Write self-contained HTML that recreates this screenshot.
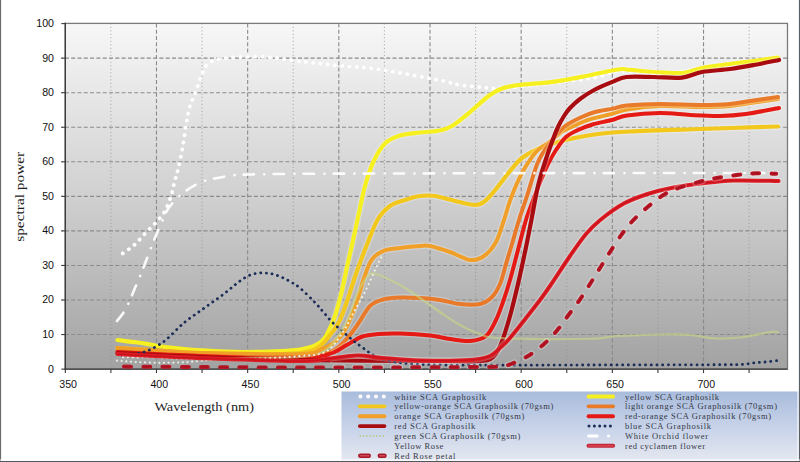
<!DOCTYPE html>
<html><head><meta charset="utf-8"><style>
html,body{margin:0;padding:0;background:#fff;width:800px;height:462px;overflow:hidden}
body{position:relative;font-family:"Liberation Sans",sans-serif}
</style></head><body>
<svg width="800" height="462" viewBox="0 0 800 462" style="position:absolute;left:0;top:0">
<defs>
<linearGradient id="bg" x1="0" y1="0" x2="0" y2="1">
<stop offset="0" stop-color="#f7f7f7"/><stop offset="0.5" stop-color="#d0d0d0"/><stop offset="1" stop-color="#a2a2a2"/>
</linearGradient>
<linearGradient id="lg" x1="0" y1="0" x2="0" y2="1">
<stop offset="0" stop-color="#a9bcdc"/><stop offset="0.55" stop-color="#c9d4ea"/><stop offset="1" stop-color="#e4e7ef"/>
</linearGradient>
<clipPath id="hc"><rect x="330" y="0" width="470" height="462"/></clipPath>
<clipPath id="pc"><rect x="65.3" y="23.4" width="722.2" height="345.7"/></clipPath>
</defs>
<rect x="65.3" y="23.4" width="722.2" height="345.7" fill="url(#bg)"/>
<line x1="61.3" y1="334.55" x2="787.5" y2="334.55" stroke="#8a8a8a" stroke-width="1.1" stroke-dasharray="4 2.3" stroke-dashoffset="-3.6"/>
<line x1="61.3" y1="300.00" x2="787.5" y2="300.00" stroke="#8a8a8a" stroke-width="1.1" stroke-dasharray="4 2.3" stroke-dashoffset="-3.6"/>
<line x1="61.3" y1="265.45" x2="787.5" y2="265.45" stroke="#8a8a8a" stroke-width="1.1" stroke-dasharray="4 2.3" stroke-dashoffset="-3.6"/>
<line x1="61.3" y1="230.90" x2="787.5" y2="230.90" stroke="#8a8a8a" stroke-width="1.1" stroke-dasharray="4 2.3" stroke-dashoffset="-3.6"/>
<line x1="61.3" y1="196.35" x2="787.5" y2="196.35" stroke="#8a8a8a" stroke-width="1.1" stroke-dasharray="4 2.3" stroke-dashoffset="-3.6"/>
<line x1="61.3" y1="161.80" x2="787.5" y2="161.80" stroke="#8a8a8a" stroke-width="1.1" stroke-dasharray="4 2.3" stroke-dashoffset="-3.6"/>
<line x1="61.3" y1="127.25" x2="787.5" y2="127.25" stroke="#8a8a8a" stroke-width="1.1" stroke-dasharray="4 2.3" stroke-dashoffset="-3.6"/>
<line x1="61.3" y1="92.70" x2="787.5" y2="92.70" stroke="#8a8a8a" stroke-width="1.1" stroke-dasharray="4 2.3" stroke-dashoffset="-3.6"/>
<line x1="61.3" y1="58.15" x2="787.5" y2="58.15" stroke="#8a8a8a" stroke-width="1.1" stroke-dasharray="4 2.3" stroke-dashoffset="-3.6"/>
<line x1="110.89" y1="23.4" x2="110.89" y2="369.1" stroke="#8e8e8e" stroke-width="0.9" stroke-dasharray="0.9 2.6"/>
<line x1="156.47" y1="23.4" x2="156.47" y2="369.1" stroke="#8a8a8a" stroke-width="1.1" stroke-dasharray="4 2.3"/>
<line x1="202.06" y1="23.4" x2="202.06" y2="369.1" stroke="#8e8e8e" stroke-width="0.9" stroke-dasharray="0.9 2.6"/>
<line x1="247.65" y1="23.4" x2="247.65" y2="369.1" stroke="#8a8a8a" stroke-width="1.1" stroke-dasharray="4 2.3"/>
<line x1="293.24" y1="23.4" x2="293.24" y2="369.1" stroke="#8e8e8e" stroke-width="0.9" stroke-dasharray="0.9 2.6"/>
<line x1="338.82" y1="23.4" x2="338.82" y2="369.1" stroke="#8a8a8a" stroke-width="1.1" stroke-dasharray="4 2.3"/>
<line x1="384.41" y1="23.4" x2="384.41" y2="369.1" stroke="#8e8e8e" stroke-width="0.9" stroke-dasharray="0.9 2.6"/>
<line x1="430.00" y1="23.4" x2="430.00" y2="369.1" stroke="#8a8a8a" stroke-width="1.1" stroke-dasharray="4 2.3"/>
<line x1="475.59" y1="23.4" x2="475.59" y2="369.1" stroke="#8e8e8e" stroke-width="0.9" stroke-dasharray="0.9 2.6"/>
<line x1="521.17" y1="23.4" x2="521.17" y2="369.1" stroke="#8a8a8a" stroke-width="1.1" stroke-dasharray="4 2.3"/>
<line x1="566.76" y1="23.4" x2="566.76" y2="369.1" stroke="#8e8e8e" stroke-width="0.9" stroke-dasharray="0.9 2.6"/>
<line x1="612.35" y1="23.4" x2="612.35" y2="369.1" stroke="#8a8a8a" stroke-width="1.1" stroke-dasharray="4 2.3"/>
<line x1="657.94" y1="23.4" x2="657.94" y2="369.1" stroke="#8e8e8e" stroke-width="0.9" stroke-dasharray="0.9 2.6"/>
<line x1="703.52" y1="23.4" x2="703.52" y2="369.1" stroke="#8a8a8a" stroke-width="1.1" stroke-dasharray="4 2.3"/>
<line x1="749.11" y1="23.4" x2="749.11" y2="369.1" stroke="#8e8e8e" stroke-width="0.9" stroke-dasharray="0.9 2.6"/>
<rect x="65.3" y="23.4" width="722.2" height="345.7" fill="none" stroke="#7a7a7a" stroke-width="1.3"/>
<line x1="65.3" y1="22.8" x2="65.3" y2="369.8" stroke="#3c3c3c" stroke-width="1.4"/>
<line x1="64.6" y1="369.1" x2="787.5" y2="369.1" stroke="#3c3c3c" stroke-width="1.4"/>
<line x1="61.3" y1="369.10" x2="65.3" y2="369.10" stroke="#3c3c3c" stroke-width="1.1"/>
<line x1="61.3" y1="334.55" x2="65.3" y2="334.55" stroke="#3c3c3c" stroke-width="1.1"/>
<line x1="61.3" y1="300.00" x2="65.3" y2="300.00" stroke="#3c3c3c" stroke-width="1.1"/>
<line x1="61.3" y1="265.45" x2="65.3" y2="265.45" stroke="#3c3c3c" stroke-width="1.1"/>
<line x1="61.3" y1="230.90" x2="65.3" y2="230.90" stroke="#3c3c3c" stroke-width="1.1"/>
<line x1="61.3" y1="196.35" x2="65.3" y2="196.35" stroke="#3c3c3c" stroke-width="1.1"/>
<line x1="61.3" y1="161.80" x2="65.3" y2="161.80" stroke="#3c3c3c" stroke-width="1.1"/>
<line x1="61.3" y1="127.25" x2="65.3" y2="127.25" stroke="#3c3c3c" stroke-width="1.1"/>
<line x1="61.3" y1="92.70" x2="65.3" y2="92.70" stroke="#3c3c3c" stroke-width="1.1"/>
<line x1="61.3" y1="58.15" x2="65.3" y2="58.15" stroke="#3c3c3c" stroke-width="1.1"/>
<line x1="61.3" y1="23.60" x2="65.3" y2="23.60" stroke="#3c3c3c" stroke-width="1.1"/>
<line x1="65.30" y1="369.1" x2="65.30" y2="373.1" stroke="#3c3c3c" stroke-width="1.1"/>
<line x1="110.89" y1="369.1" x2="110.89" y2="373.1" stroke="#3c3c3c" stroke-width="1.1"/>
<line x1="156.47" y1="369.1" x2="156.47" y2="373.1" stroke="#3c3c3c" stroke-width="1.1"/>
<line x1="202.06" y1="369.1" x2="202.06" y2="373.1" stroke="#3c3c3c" stroke-width="1.1"/>
<line x1="247.65" y1="369.1" x2="247.65" y2="373.1" stroke="#3c3c3c" stroke-width="1.1"/>
<line x1="293.24" y1="369.1" x2="293.24" y2="373.1" stroke="#3c3c3c" stroke-width="1.1"/>
<line x1="338.82" y1="369.1" x2="338.82" y2="373.1" stroke="#3c3c3c" stroke-width="1.1"/>
<line x1="384.41" y1="369.1" x2="384.41" y2="373.1" stroke="#3c3c3c" stroke-width="1.1"/>
<line x1="430.00" y1="369.1" x2="430.00" y2="373.1" stroke="#3c3c3c" stroke-width="1.1"/>
<line x1="475.59" y1="369.1" x2="475.59" y2="373.1" stroke="#3c3c3c" stroke-width="1.1"/>
<line x1="521.17" y1="369.1" x2="521.17" y2="373.1" stroke="#3c3c3c" stroke-width="1.1"/>
<line x1="566.76" y1="369.1" x2="566.76" y2="373.1" stroke="#3c3c3c" stroke-width="1.1"/>
<line x1="612.35" y1="369.1" x2="612.35" y2="373.1" stroke="#3c3c3c" stroke-width="1.1"/>
<line x1="657.94" y1="369.1" x2="657.94" y2="373.1" stroke="#3c3c3c" stroke-width="1.1"/>
<line x1="703.52" y1="369.1" x2="703.52" y2="373.1" stroke="#3c3c3c" stroke-width="1.1"/>
<line x1="749.11" y1="369.1" x2="749.11" y2="373.1" stroke="#3c3c3c" stroke-width="1.1"/>
<g clip-path="url(#pc)">
<path d="M122.70,253.40 C124.68,251.95 130.82,248.07 134.60,244.70 C138.38,241.33 141.83,236.92 145.40,233.20 C148.97,229.48 152.73,226.10 156.00,222.40 C159.27,218.70 162.50,215.40 165.00,211.00 C167.50,206.60 169.40,200.90 171.00,196.00 C172.60,191.10 173.33,186.43 174.60,181.60 C175.87,176.77 177.20,173.10 178.60,167.00 C180.00,160.90 181.67,152.50 183.00,145.00 C184.33,137.50 185.43,128.50 186.60,122.00 C187.77,115.50 188.43,111.17 190.00,106.00 C191.57,100.83 194.00,96.33 196.00,91.00 C198.00,85.67 200.00,78.50 202.00,74.00 C204.00,69.50 204.58,66.58 208.00,64.00 C211.42,61.42 213.21,59.68 222.50,58.50 C231.79,57.32 250.00,56.32 263.75,56.90 C277.50,57.48 291.88,60.48 305.00,62.00 C318.12,63.52 331.88,65.00 342.50,66.00 C353.12,67.00 360.00,67.00 368.75,68.00 C377.50,69.00 385.62,70.42 395.00,72.00 C404.38,73.58 416.75,75.97 425.00,77.50 C433.25,79.03 438.67,79.95 444.50,81.20 C450.33,82.45 453.75,83.98 460.00,85.00 C466.25,86.02 476.00,86.72 482.00,87.30 C488.00,87.88 489.67,88.63 496.00,88.50 C502.33,88.37 510.17,87.50 520.00,86.50 C529.83,85.50 542.50,84.00 555.00,82.50 C567.50,81.00 584.17,79.42 595.00,77.50 C605.83,75.58 609.17,71.58 620.00,71.00 C630.83,70.42 646.67,74.33 660.00,74.00 C673.33,73.67 686.67,70.67 700.00,69.00 C713.33,67.33 727.00,65.83 740.00,64.00 C753.00,62.17 771.67,59.00 778.00,58.00" fill="none" stroke="#ffffff" stroke-width="3.8" stroke-linejoin="round" stroke-linecap="round" stroke-dasharray="0.1 7.2"/>
<path d="M117.50,340.00 C120.83,340.42 132.08,341.75 137.50,342.50 C142.92,343.25 145.42,343.75 150.00,344.50 C154.58,345.25 156.67,346.03 165.00,347.00 C173.33,347.97 186.67,349.47 200.00,350.30 C213.33,351.13 228.33,352.13 245.00,352.00 C261.67,351.87 287.37,351.17 300.00,349.50 C312.63,347.83 316.03,345.08 320.80,342.00 C325.57,338.92 326.23,335.33 328.60,331.00 C330.97,326.67 332.83,322.50 335.00,316.00 C337.17,309.50 339.64,300.00 341.60,292.00 C343.56,284.00 345.02,275.83 346.75,268.00 C348.48,260.17 350.00,254.00 352.00,245.00 C354.00,236.00 356.58,223.83 358.75,214.00 C360.92,204.17 362.50,194.83 365.00,186.00 C367.50,177.17 370.42,168.08 373.75,161.00 C377.08,153.92 380.62,147.75 385.00,143.50 C389.38,139.25 394.17,137.33 400.00,135.50 C405.83,133.67 413.33,133.33 420.00,132.50 C426.67,131.67 434.67,131.58 440.00,130.50 C445.33,129.42 447.67,128.50 452.00,126.00 C456.33,123.50 461.67,119.00 466.00,115.50 C470.33,112.00 474.00,108.42 478.00,105.00 C482.00,101.58 486.00,97.75 490.00,95.00 C494.00,92.25 497.25,90.17 502.00,88.50 C506.75,86.83 509.75,86.15 518.50,85.00 C527.25,83.85 543.25,83.10 554.50,81.60 C565.75,80.10 575.50,78.02 586.00,76.00 C596.50,73.98 610.75,70.58 617.50,69.50 C624.25,68.42 620.42,69.08 626.50,69.50 C632.58,69.92 644.75,71.42 654.00,72.00 C663.25,72.58 674.00,73.67 682.00,73.00 C690.00,72.33 694.00,69.50 702.00,68.00 C710.00,66.50 721.33,65.17 730.00,64.00 C738.67,62.83 746.00,62.08 754.00,61.00 C762.00,59.92 774.00,58.08 778.00,57.50" fill="none" stroke="#ffffff" stroke-opacity="0.25" stroke-width="6.800000000000001" stroke-linejoin="round" stroke-linecap="round" clip-path="url(#hc)"/>
<path d="M117.50,340.00 C120.83,340.42 132.08,341.75 137.50,342.50 C142.92,343.25 145.42,343.75 150.00,344.50 C154.58,345.25 156.67,346.03 165.00,347.00 C173.33,347.97 186.67,349.47 200.00,350.30 C213.33,351.13 228.33,352.13 245.00,352.00 C261.67,351.87 287.37,351.17 300.00,349.50 C312.63,347.83 316.03,345.08 320.80,342.00 C325.57,338.92 326.23,335.33 328.60,331.00 C330.97,326.67 332.83,322.50 335.00,316.00 C337.17,309.50 339.64,300.00 341.60,292.00 C343.56,284.00 345.02,275.83 346.75,268.00 C348.48,260.17 350.00,254.00 352.00,245.00 C354.00,236.00 356.58,223.83 358.75,214.00 C360.92,204.17 362.50,194.83 365.00,186.00 C367.50,177.17 370.42,168.08 373.75,161.00 C377.08,153.92 380.62,147.75 385.00,143.50 C389.38,139.25 394.17,137.33 400.00,135.50 C405.83,133.67 413.33,133.33 420.00,132.50 C426.67,131.67 434.67,131.58 440.00,130.50 C445.33,129.42 447.67,128.50 452.00,126.00 C456.33,123.50 461.67,119.00 466.00,115.50 C470.33,112.00 474.00,108.42 478.00,105.00 C482.00,101.58 486.00,97.75 490.00,95.00 C494.00,92.25 497.25,90.17 502.00,88.50 C506.75,86.83 509.75,86.15 518.50,85.00 C527.25,83.85 543.25,83.10 554.50,81.60 C565.75,80.10 575.50,78.02 586.00,76.00 C596.50,73.98 610.75,70.58 617.50,69.50 C624.25,68.42 620.42,69.08 626.50,69.50 C632.58,69.92 644.75,71.42 654.00,72.00 C663.25,72.58 674.00,73.67 682.00,73.00 C690.00,72.33 694.00,69.50 702.00,68.00 C710.00,66.50 721.33,65.17 730.00,64.00 C738.67,62.83 746.00,62.08 754.00,61.00 C762.00,59.92 774.00,58.08 778.00,57.50" fill="none" stroke="#f6f020" stroke-width="4.2" stroke-linejoin="round" stroke-linecap="round"/>
<path d="M117.50,348.00 C125.42,348.50 151.25,350.17 165.00,351.00 C178.75,351.83 186.67,352.42 200.00,353.00 C213.33,353.58 228.33,354.50 245.00,354.50 C261.67,354.50 287.50,354.42 300.00,353.00 C312.50,351.58 315.00,349.00 320.00,346.00 C325.00,343.00 326.83,339.00 330.00,335.00 C333.17,331.00 336.21,327.50 339.00,322.00 C341.79,316.50 343.75,310.50 346.75,302.00 C349.75,293.50 353.32,281.33 357.00,271.00 C360.68,260.67 365.30,248.67 368.80,240.00 C372.30,231.33 374.47,224.67 378.00,219.00 C381.53,213.33 385.50,209.17 390.00,206.00 C394.50,202.83 400.00,201.67 405.00,200.00 C410.00,198.33 415.00,196.67 420.00,196.00 C425.00,195.33 429.17,195.17 435.00,196.00 C440.83,196.83 448.33,199.50 455.00,201.00 C461.67,202.50 470.00,205.00 475.00,205.00 C480.00,205.00 481.50,203.67 485.00,201.00 C488.50,198.33 491.83,194.00 496.00,189.00 C500.17,184.00 505.67,176.17 510.00,171.00 C514.33,165.83 517.33,161.67 522.00,158.00 C526.67,154.33 532.67,151.50 538.00,149.00 C543.33,146.50 548.67,144.67 554.00,143.00 C559.33,141.33 562.67,140.50 570.00,139.00 C577.33,137.50 588.00,135.25 598.00,134.00 C608.00,132.75 613.00,132.33 630.00,131.50 C647.00,130.67 675.33,129.83 700.00,129.00 C724.67,128.17 765.00,126.92 778.00,126.50" fill="none" stroke="#ffffff" stroke-opacity="0.25" stroke-width="6.800000000000001" stroke-linejoin="round" stroke-linecap="round" clip-path="url(#hc)"/>
<path d="M117.50,348.00 C125.42,348.50 151.25,350.17 165.00,351.00 C178.75,351.83 186.67,352.42 200.00,353.00 C213.33,353.58 228.33,354.50 245.00,354.50 C261.67,354.50 287.50,354.42 300.00,353.00 C312.50,351.58 315.00,349.00 320.00,346.00 C325.00,343.00 326.83,339.00 330.00,335.00 C333.17,331.00 336.21,327.50 339.00,322.00 C341.79,316.50 343.75,310.50 346.75,302.00 C349.75,293.50 353.32,281.33 357.00,271.00 C360.68,260.67 365.30,248.67 368.80,240.00 C372.30,231.33 374.47,224.67 378.00,219.00 C381.53,213.33 385.50,209.17 390.00,206.00 C394.50,202.83 400.00,201.67 405.00,200.00 C410.00,198.33 415.00,196.67 420.00,196.00 C425.00,195.33 429.17,195.17 435.00,196.00 C440.83,196.83 448.33,199.50 455.00,201.00 C461.67,202.50 470.00,205.00 475.00,205.00 C480.00,205.00 481.50,203.67 485.00,201.00 C488.50,198.33 491.83,194.00 496.00,189.00 C500.17,184.00 505.67,176.17 510.00,171.00 C514.33,165.83 517.33,161.67 522.00,158.00 C526.67,154.33 532.67,151.50 538.00,149.00 C543.33,146.50 548.67,144.67 554.00,143.00 C559.33,141.33 562.67,140.50 570.00,139.00 C577.33,137.50 588.00,135.25 598.00,134.00 C608.00,132.75 613.00,132.33 630.00,131.50 C647.00,130.67 675.33,129.83 700.00,129.00 C724.67,128.17 765.00,126.92 778.00,126.50" fill="none" stroke="#f2c81c" stroke-width="4.2" stroke-linejoin="round" stroke-linecap="round"/>
<path d="M117.50,348.00 C125.42,348.50 151.25,350.17 165.00,351.00 C178.75,351.83 177.50,352.50 200.00,353.00 C222.50,353.50 280.00,354.50 300.00,354.00 C320.00,353.50 314.37,351.90 320.00,350.00 C325.63,348.10 329.72,345.80 333.80,342.60 C337.88,339.40 340.77,337.32 344.50,330.80 C348.23,324.28 352.95,312.30 356.20,303.50 C359.45,294.70 361.40,285.32 364.00,278.00 C366.60,270.68 368.55,264.13 371.80,259.60 C375.05,255.07 378.80,252.73 383.50,250.80 C388.20,248.87 393.92,248.80 400.00,248.00 C406.08,247.20 415.00,246.33 420.00,246.00 C425.00,245.67 425.00,245.00 430.00,246.00 C435.00,247.00 443.33,249.67 450.00,252.00 C456.67,254.33 464.33,259.33 470.00,260.00 C475.67,260.67 479.67,259.00 484.00,256.00 C488.33,253.00 492.67,248.00 496.00,242.00 C499.33,236.00 501.50,227.33 504.00,220.00 C506.50,212.67 508.00,205.83 511.00,198.00 C514.00,190.17 517.83,180.67 522.00,173.00 C526.17,165.33 531.67,157.00 536.00,152.00 C540.33,147.00 544.33,145.83 548.00,143.00 C551.67,140.17 555.33,137.08 558.00,135.00 C560.67,132.92 559.07,133.00 564.00,130.50 C568.93,128.00 579.70,122.75 587.60,120.00 C595.50,117.25 604.83,115.75 611.40,114.00 C617.97,112.25 618.90,110.83 627.00,109.50 C635.10,108.17 647.50,106.42 660.00,106.00 C672.50,105.58 690.33,107.00 702.00,107.00 C713.67,107.00 722.00,106.67 730.00,106.00 C738.00,105.33 742.00,104.17 750.00,103.00 C758.00,101.83 773.33,99.67 778.00,99.00" fill="none" stroke="#ffffff" stroke-opacity="0.25" stroke-width="6.6" stroke-linejoin="round" stroke-linecap="round" clip-path="url(#hc)"/>
<path d="M117.50,348.00 C125.42,348.50 151.25,350.17 165.00,351.00 C178.75,351.83 177.50,352.50 200.00,353.00 C222.50,353.50 280.00,354.50 300.00,354.00 C320.00,353.50 314.37,351.90 320.00,350.00 C325.63,348.10 329.72,345.80 333.80,342.60 C337.88,339.40 340.77,337.32 344.50,330.80 C348.23,324.28 352.95,312.30 356.20,303.50 C359.45,294.70 361.40,285.32 364.00,278.00 C366.60,270.68 368.55,264.13 371.80,259.60 C375.05,255.07 378.80,252.73 383.50,250.80 C388.20,248.87 393.92,248.80 400.00,248.00 C406.08,247.20 415.00,246.33 420.00,246.00 C425.00,245.67 425.00,245.00 430.00,246.00 C435.00,247.00 443.33,249.67 450.00,252.00 C456.67,254.33 464.33,259.33 470.00,260.00 C475.67,260.67 479.67,259.00 484.00,256.00 C488.33,253.00 492.67,248.00 496.00,242.00 C499.33,236.00 501.50,227.33 504.00,220.00 C506.50,212.67 508.00,205.83 511.00,198.00 C514.00,190.17 517.83,180.67 522.00,173.00 C526.17,165.33 531.67,157.00 536.00,152.00 C540.33,147.00 544.33,145.83 548.00,143.00 C551.67,140.17 555.33,137.08 558.00,135.00 C560.67,132.92 559.07,133.00 564.00,130.50 C568.93,128.00 579.70,122.75 587.60,120.00 C595.50,117.25 604.83,115.75 611.40,114.00 C617.97,112.25 618.90,110.83 627.00,109.50 C635.10,108.17 647.50,106.42 660.00,106.00 C672.50,105.58 690.33,107.00 702.00,107.00 C713.67,107.00 722.00,106.67 730.00,106.00 C738.00,105.33 742.00,104.17 750.00,103.00 C758.00,101.83 773.33,99.67 778.00,99.00" fill="none" stroke="#f0a028" stroke-width="4.0" stroke-linejoin="round" stroke-linecap="round"/>
<path d="M117.50,351.50 C125.42,352.00 151.25,353.75 165.00,354.50 C178.75,355.25 177.50,355.58 200.00,356.00 C222.50,356.42 278.33,357.67 300.00,357.00 C321.67,356.33 322.67,354.50 330.00,352.00 C337.33,349.50 339.50,346.42 344.00,342.00 C348.50,337.58 352.67,331.50 357.00,325.50 C361.33,319.50 365.67,310.33 370.00,306.00 C374.33,301.67 378.00,300.92 383.00,299.50 C388.00,298.08 393.83,297.75 400.00,297.50 C406.17,297.25 413.33,297.58 420.00,298.00 C426.67,298.42 433.33,299.00 440.00,300.00 C446.67,301.00 453.33,303.33 460.00,304.00 C466.67,304.67 474.67,305.17 480.00,304.00 C485.33,302.83 488.67,300.33 492.00,297.00 C495.33,293.67 497.67,289.50 500.00,284.00 C502.33,278.50 504.00,270.67 506.00,264.00 C508.00,257.33 509.83,251.33 512.00,244.00 C514.17,236.67 516.50,228.00 519.00,220.00 C521.50,212.00 523.83,205.67 527.00,196.00 C530.17,186.33 534.17,170.83 538.00,162.00 C541.83,153.17 545.67,148.83 550.00,143.00 C554.33,137.17 559.00,131.20 564.00,127.00 C569.00,122.80 574.83,120.30 580.00,117.80 C585.17,115.30 589.50,113.53 595.00,112.00 C600.50,110.47 607.75,109.68 613.00,108.60 C618.25,107.52 618.67,106.27 626.50,105.50 C634.33,104.73 647.42,104.08 660.00,104.00 C672.58,103.92 690.33,105.00 702.00,105.00 C713.67,105.00 722.00,104.67 730.00,104.00 C738.00,103.33 742.00,102.17 750.00,101.00 C758.00,99.83 773.33,97.67 778.00,97.00" fill="none" stroke="#ffffff" stroke-opacity="0.25" stroke-width="6.6" stroke-linejoin="round" stroke-linecap="round" clip-path="url(#hc)"/>
<path d="M117.50,351.50 C125.42,352.00 151.25,353.75 165.00,354.50 C178.75,355.25 177.50,355.58 200.00,356.00 C222.50,356.42 278.33,357.67 300.00,357.00 C321.67,356.33 322.67,354.50 330.00,352.00 C337.33,349.50 339.50,346.42 344.00,342.00 C348.50,337.58 352.67,331.50 357.00,325.50 C361.33,319.50 365.67,310.33 370.00,306.00 C374.33,301.67 378.00,300.92 383.00,299.50 C388.00,298.08 393.83,297.75 400.00,297.50 C406.17,297.25 413.33,297.58 420.00,298.00 C426.67,298.42 433.33,299.00 440.00,300.00 C446.67,301.00 453.33,303.33 460.00,304.00 C466.67,304.67 474.67,305.17 480.00,304.00 C485.33,302.83 488.67,300.33 492.00,297.00 C495.33,293.67 497.67,289.50 500.00,284.00 C502.33,278.50 504.00,270.67 506.00,264.00 C508.00,257.33 509.83,251.33 512.00,244.00 C514.17,236.67 516.50,228.00 519.00,220.00 C521.50,212.00 523.83,205.67 527.00,196.00 C530.17,186.33 534.17,170.83 538.00,162.00 C541.83,153.17 545.67,148.83 550.00,143.00 C554.33,137.17 559.00,131.20 564.00,127.00 C569.00,122.80 574.83,120.30 580.00,117.80 C585.17,115.30 589.50,113.53 595.00,112.00 C600.50,110.47 607.75,109.68 613.00,108.60 C618.25,107.52 618.67,106.27 626.50,105.50 C634.33,104.73 647.42,104.08 660.00,104.00 C672.58,103.92 690.33,105.00 702.00,105.00 C713.67,105.00 722.00,104.67 730.00,104.00 C738.00,103.33 742.00,102.17 750.00,101.00 C758.00,99.83 773.33,97.67 778.00,97.00" fill="none" stroke="#e87a2a" stroke-width="4.0" stroke-linejoin="round" stroke-linecap="round"/>
<path d="M117.50,352.00 C125.42,352.42 151.25,353.83 165.00,354.50 C178.75,355.17 180.83,355.33 200.00,356.00 C219.17,356.67 259.00,358.67 280.00,358.50 C301.00,358.33 314.88,357.25 326.00,355.00 C337.12,352.75 340.70,348.08 346.75,345.00 C352.80,341.92 357.09,338.33 362.30,336.50 C367.51,334.67 371.72,334.50 378.00,334.00 C384.28,333.50 391.33,333.25 400.00,333.50 C408.67,333.75 421.67,334.58 430.00,335.50 C438.33,336.42 443.33,338.08 450.00,339.00 C456.67,339.92 464.00,341.50 470.00,341.00 C476.00,340.50 481.67,339.50 486.00,336.00 C490.33,332.50 493.17,325.67 496.00,320.00 C498.83,314.33 500.67,308.67 503.00,302.00 C505.33,295.33 507.50,288.67 510.00,280.00 C512.50,271.33 515.33,260.00 518.00,250.00 C520.67,240.00 523.33,228.67 526.00,220.00 C528.67,211.33 531.50,204.67 534.00,198.00 C536.50,191.33 538.67,185.67 541.00,180.00 C543.33,174.33 545.50,169.00 548.00,164.00 C550.50,159.00 553.00,154.50 556.00,150.00 C559.00,145.50 562.33,140.33 566.00,137.00 C569.67,133.67 573.58,132.08 578.00,130.00 C582.42,127.92 586.83,126.17 592.50,124.50 C598.17,122.83 606.25,121.50 612.00,120.00 C617.75,118.50 619.00,116.67 627.00,115.50 C635.00,114.33 649.50,113.08 660.00,113.00 C670.50,112.92 680.00,114.50 690.00,115.00 C700.00,115.50 710.67,116.17 720.00,116.00 C729.33,115.83 736.17,115.33 746.00,114.00 C755.83,112.67 773.50,109.00 779.00,108.00" fill="none" stroke="#ffffff" stroke-opacity="0.25" stroke-width="6.6" stroke-linejoin="round" stroke-linecap="round" clip-path="url(#hc)"/>
<path d="M117.50,352.00 C125.42,352.42 151.25,353.83 165.00,354.50 C178.75,355.17 180.83,355.33 200.00,356.00 C219.17,356.67 259.00,358.67 280.00,358.50 C301.00,358.33 314.88,357.25 326.00,355.00 C337.12,352.75 340.70,348.08 346.75,345.00 C352.80,341.92 357.09,338.33 362.30,336.50 C367.51,334.67 371.72,334.50 378.00,334.00 C384.28,333.50 391.33,333.25 400.00,333.50 C408.67,333.75 421.67,334.58 430.00,335.50 C438.33,336.42 443.33,338.08 450.00,339.00 C456.67,339.92 464.00,341.50 470.00,341.00 C476.00,340.50 481.67,339.50 486.00,336.00 C490.33,332.50 493.17,325.67 496.00,320.00 C498.83,314.33 500.67,308.67 503.00,302.00 C505.33,295.33 507.50,288.67 510.00,280.00 C512.50,271.33 515.33,260.00 518.00,250.00 C520.67,240.00 523.33,228.67 526.00,220.00 C528.67,211.33 531.50,204.67 534.00,198.00 C536.50,191.33 538.67,185.67 541.00,180.00 C543.33,174.33 545.50,169.00 548.00,164.00 C550.50,159.00 553.00,154.50 556.00,150.00 C559.00,145.50 562.33,140.33 566.00,137.00 C569.67,133.67 573.58,132.08 578.00,130.00 C582.42,127.92 586.83,126.17 592.50,124.50 C598.17,122.83 606.25,121.50 612.00,120.00 C617.75,118.50 619.00,116.67 627.00,115.50 C635.00,114.33 649.50,113.08 660.00,113.00 C670.50,112.92 680.00,114.50 690.00,115.00 C700.00,115.50 710.67,116.17 720.00,116.00 C729.33,115.83 736.17,115.33 746.00,114.00 C755.83,112.67 773.50,109.00 779.00,108.00" fill="none" stroke="#e51a14" stroke-width="4.0" stroke-linejoin="round" stroke-linecap="round"/>
<path d="M117.50,353.00 C125.42,353.42 151.25,354.83 165.00,355.50 C178.75,356.17 177.50,356.25 200.00,357.00 C222.50,357.75 260.00,359.33 300.00,360.00 C340.00,360.67 410.00,360.83 440.00,361.00 C470.00,361.17 471.17,361.67 480.00,361.00 C488.83,360.33 489.50,359.83 493.00,357.00 C496.50,354.17 498.17,350.83 501.00,344.00 C503.83,337.17 507.17,326.00 510.00,316.00 C512.83,306.00 515.50,294.67 518.00,284.00 C520.50,273.33 522.83,262.33 525.00,252.00 C527.17,241.67 528.83,233.00 531.00,222.00 C533.17,211.00 535.67,196.00 538.00,186.00 C540.33,176.00 542.67,169.33 545.00,162.00 C547.33,154.67 549.83,147.83 552.00,142.00 C554.17,136.17 556.00,131.33 558.00,127.00 C560.00,122.67 562.00,119.17 564.00,116.00 C566.00,112.83 567.33,110.83 570.00,108.00 C572.67,105.17 575.83,102.08 580.00,99.00 C584.17,95.92 589.50,92.40 595.00,89.50 C600.50,86.60 607.75,83.68 613.00,81.60 C618.25,79.52 619.67,77.77 626.50,77.00 C633.33,76.23 644.75,76.90 654.00,77.00 C663.25,77.10 674.00,78.43 682.00,77.60 C690.00,76.77 694.00,73.43 702.00,72.00 C710.00,70.57 721.33,70.17 730.00,69.00 C738.67,67.83 745.83,66.50 754.00,65.00 C762.17,63.50 774.83,60.83 779.00,60.00" fill="none" stroke="#ffffff" stroke-opacity="0.25" stroke-width="6.800000000000001" stroke-linejoin="round" stroke-linecap="round" clip-path="url(#hc)"/>
<path d="M117.50,353.00 C125.42,353.42 151.25,354.83 165.00,355.50 C178.75,356.17 177.50,356.25 200.00,357.00 C222.50,357.75 260.00,359.33 300.00,360.00 C340.00,360.67 410.00,360.83 440.00,361.00 C470.00,361.17 471.17,361.67 480.00,361.00 C488.83,360.33 489.50,359.83 493.00,357.00 C496.50,354.17 498.17,350.83 501.00,344.00 C503.83,337.17 507.17,326.00 510.00,316.00 C512.83,306.00 515.50,294.67 518.00,284.00 C520.50,273.33 522.83,262.33 525.00,252.00 C527.17,241.67 528.83,233.00 531.00,222.00 C533.17,211.00 535.67,196.00 538.00,186.00 C540.33,176.00 542.67,169.33 545.00,162.00 C547.33,154.67 549.83,147.83 552.00,142.00 C554.17,136.17 556.00,131.33 558.00,127.00 C560.00,122.67 562.00,119.17 564.00,116.00 C566.00,112.83 567.33,110.83 570.00,108.00 C572.67,105.17 575.83,102.08 580.00,99.00 C584.17,95.92 589.50,92.40 595.00,89.50 C600.50,86.60 607.75,83.68 613.00,81.60 C618.25,79.52 619.67,77.77 626.50,77.00 C633.33,76.23 644.75,76.90 654.00,77.00 C663.25,77.10 674.00,78.43 682.00,77.60 C690.00,76.77 694.00,73.43 702.00,72.00 C710.00,70.57 721.33,70.17 730.00,69.00 C738.67,67.83 745.83,66.50 754.00,65.00 C762.17,63.50 774.83,60.83 779.00,60.00" fill="none" stroke="#a80c10" stroke-width="4.2" stroke-linejoin="round" stroke-linecap="round"/>
<path d="M121.50,355.00 C122.92,354.92 126.92,354.83 130.00,354.50 C133.08,354.17 137.00,353.65 140.00,353.00 C143.00,352.35 145.04,351.83 148.00,350.60 C150.96,349.37 154.58,347.53 157.75,345.60 C160.92,343.67 163.50,342.02 167.00,339.00 C170.50,335.98 175.33,330.67 178.75,327.50 C182.17,324.33 184.58,322.29 187.50,320.00 C190.42,317.71 193.33,315.83 196.25,313.75 C199.17,311.67 202.08,309.58 205.00,307.50 C207.92,305.42 210.83,303.33 213.75,301.25 C216.67,299.17 219.58,297.21 222.50,295.00 C225.42,292.79 228.33,290.33 231.25,288.00 C234.17,285.67 236.88,283.17 240.00,281.00 C243.12,278.83 246.67,276.33 250.00,275.00 C253.33,273.67 256.67,273.25 260.00,273.00 C263.33,272.75 266.67,272.92 270.00,273.50 C273.33,274.08 276.67,275.17 280.00,276.50 C283.33,277.83 286.67,279.58 290.00,281.50 C293.33,283.42 295.83,284.50 300.00,288.00 C304.17,291.50 311.04,298.42 315.00,302.50 C318.96,306.58 320.83,309.17 323.75,312.50 C326.67,315.83 329.38,319.38 332.50,322.50 C335.62,325.62 339.17,328.33 342.50,331.25 C345.83,334.17 349.17,337.29 352.50,340.00 C355.83,342.71 358.75,344.83 362.50,347.50 C366.25,350.17 369.58,353.58 375.00,356.00 C380.42,358.42 385.83,360.53 395.00,362.00 C404.17,363.47 412.50,364.27 430.00,364.80 C447.50,365.33 473.33,365.17 500.00,365.20 C526.67,365.23 556.67,365.07 590.00,365.00 C623.33,364.93 675.00,364.88 700.00,364.80 C725.00,364.72 731.25,364.80 740.00,364.50 C748.75,364.20 748.33,363.42 752.50,363.00 C756.67,362.58 760.75,362.42 765.00,362.00 C769.25,361.58 775.83,360.75 778.00,360.50" fill="none" stroke="#1a2c58" stroke-width="2.8" stroke-linejoin="round" stroke-linecap="round" stroke-dasharray="0.1 5.6"/>
<path d="M207.00,360.00 C212.50,359.67 224.50,358.50 240.00,358.00 C255.50,357.50 285.67,358.33 300.00,357.00 C314.33,355.67 318.50,355.33 326.00,350.00 C333.50,344.67 339.67,334.67 345.00,325.00 C350.33,315.33 354.17,300.17 358.00,292.00 C361.83,283.83 365.00,279.00 368.00,276.00 C371.00,273.00 370.67,272.50 376.00,274.00 C381.33,275.50 392.67,281.00 400.00,285.00 C407.33,289.00 413.33,293.50 420.00,298.00 C426.67,302.50 433.33,307.50 440.00,312.00 C446.67,316.50 453.33,321.33 460.00,325.00 C466.67,328.67 473.33,331.83 480.00,334.00 C486.67,336.17 481.67,337.21 500.00,338.00 C518.33,338.79 570.83,339.04 590.00,338.75 C609.17,338.46 602.50,336.96 615.00,336.25 C627.50,335.54 652.50,334.71 665.00,334.50 C677.50,334.29 681.67,334.33 690.00,335.00 C698.33,335.67 706.67,338.08 715.00,338.50 C723.33,338.92 730.83,338.58 740.00,337.50 C749.17,336.42 763.67,332.92 770.00,332.00 C776.33,331.08 776.67,332.00 778.00,332.00" fill="none" stroke="#c8d884" stroke-width="2.2" stroke-linejoin="round" stroke-linecap="round" stroke-opacity="0.6"/>
<path d="M117.00,360.60 C120.00,360.83 127.83,361.63 135.00,362.00 C142.17,362.37 151.67,362.77 160.00,362.80 C168.33,362.83 177.17,362.63 185.00,362.20 C192.83,361.77 200.83,360.82 207.00,360.20 C213.17,359.58 219.50,358.78 222.00,358.50" fill="none" stroke="#e6ece0" stroke-width="2.2" stroke-linejoin="round" stroke-linecap="round" stroke-dasharray="0.1 4.6"/>
<path d="M117.00,321.00 C117.95,319.80 120.92,316.43 122.70,313.80 C124.48,311.17 125.90,308.92 127.70,305.20 C129.50,301.48 131.52,296.15 133.50,291.50 C135.48,286.85 137.68,281.97 139.60,277.30 C141.52,272.63 143.20,268.13 145.00,263.50 C146.80,258.87 148.57,254.17 150.40,249.50 C152.23,244.83 154.07,240.15 156.00,235.50 C157.93,230.85 160.00,226.02 162.00,221.60 C164.00,217.18 165.17,213.20 168.00,209.00 C170.83,204.80 175.17,199.98 179.00,196.40 C182.83,192.82 186.83,190.07 191.00,187.50 C195.17,184.93 199.33,182.63 204.00,181.00 C208.67,179.37 214.00,178.67 219.00,177.70 C224.00,176.73 228.83,175.73 234.00,175.20 C239.17,174.67 239.00,174.73 250.00,174.50 C261.00,174.27 275.00,173.97 300.00,173.80 C325.00,173.63 366.67,173.60 400.00,173.50 C433.33,173.40 466.67,173.27 500.00,173.20 C533.33,173.13 566.67,173.13 600.00,173.10 C633.33,173.07 672.17,173.02 700.00,173.00 C727.83,172.98 755.83,173.00 767.00,173.00" fill="none" stroke="#ffffff" stroke-width="2.6" stroke-linejoin="round" stroke-linecap="round" stroke-dasharray="10.5 10.3 0.1 9.1" stroke-opacity="0.92"/>
<path d="M123.00,357.20 C125.33,357.23 131.67,357.40 137.00,357.40 C142.33,357.40 148.67,357.02 155.00,357.20 C161.33,357.38 165.83,358.20 175.00,358.50 C184.17,358.80 195.83,359.00 210.00,359.00 C224.17,359.00 245.00,359.00 260.00,358.50 C275.00,358.00 289.00,357.13 300.00,356.00 C311.00,354.87 318.92,355.58 326.00,351.70 C333.08,347.82 337.80,339.43 342.50,332.70 C347.20,325.97 350.28,318.45 354.20,311.30 C358.12,304.15 362.42,296.95 366.00,289.80 C369.58,282.65 372.95,274.25 375.70,268.40 C378.45,262.55 381.37,256.98 382.50,254.70" fill="none" stroke="#f4f4e4" stroke-width="2.0" stroke-linejoin="round" stroke-linecap="round" stroke-dasharray="0.1 4.8"/>
<path d="M117.50,354.00 C125.42,354.42 151.25,355.80 165.00,356.50 C178.75,357.20 177.50,357.45 200.00,358.20 C222.50,358.95 279.00,360.87 300.00,361.00 C321.00,361.13 316.42,359.92 326.00,359.00 C335.58,358.08 348.08,355.67 357.50,355.50 C366.92,355.33 372.08,357.17 382.50,358.00 C392.92,358.83 405.42,360.17 420.00,360.50 C434.58,360.83 458.33,360.75 470.00,360.00 C481.67,359.25 485.00,358.00 490.00,356.00 C495.00,354.00 496.67,351.00 500.00,348.00 C503.33,345.00 505.67,343.00 510.00,338.00 C514.33,333.00 521.00,324.33 526.00,318.00 C531.00,311.67 536.00,305.33 540.00,300.00 C544.00,294.67 545.00,293.33 550.00,286.00 C555.00,278.67 564.00,264.67 570.00,256.00 C576.00,247.33 581.00,239.97 586.00,234.00 C591.00,228.03 593.70,225.27 600.00,220.20 C606.30,215.13 615.87,207.97 623.80,203.60 C631.73,199.23 639.67,196.60 647.60,194.00 C655.53,191.40 662.27,189.78 671.40,188.00 C680.53,186.22 692.08,184.55 702.40,183.30 C712.72,182.05 720.60,180.88 733.30,180.50 C746.00,180.12 771.05,180.92 778.60,181.00" fill="none" stroke="#ffffff" stroke-opacity="0.25" stroke-width="6.6" stroke-linejoin="round" stroke-linecap="round" clip-path="url(#hc)"/>
<path d="M117.50,354.00 C125.42,354.42 151.25,355.80 165.00,356.50 C178.75,357.20 177.50,357.45 200.00,358.20 C222.50,358.95 279.00,360.87 300.00,361.00 C321.00,361.13 316.42,359.92 326.00,359.00 C335.58,358.08 348.08,355.67 357.50,355.50 C366.92,355.33 372.08,357.17 382.50,358.00 C392.92,358.83 405.42,360.17 420.00,360.50 C434.58,360.83 458.33,360.75 470.00,360.00 C481.67,359.25 485.00,358.00 490.00,356.00 C495.00,354.00 496.67,351.00 500.00,348.00 C503.33,345.00 505.67,343.00 510.00,338.00 C514.33,333.00 521.00,324.33 526.00,318.00 C531.00,311.67 536.00,305.33 540.00,300.00 C544.00,294.67 545.00,293.33 550.00,286.00 C555.00,278.67 564.00,264.67 570.00,256.00 C576.00,247.33 581.00,239.97 586.00,234.00 C591.00,228.03 593.70,225.27 600.00,220.20 C606.30,215.13 615.87,207.97 623.80,203.60 C631.73,199.23 639.67,196.60 647.60,194.00 C655.53,191.40 662.27,189.78 671.40,188.00 C680.53,186.22 692.08,184.55 702.40,183.30 C712.72,182.05 720.60,180.88 733.30,180.50 C746.00,180.12 771.05,180.92 778.60,181.00" fill="none" stroke="#e01e26" stroke-width="4.0" stroke-linejoin="round" stroke-linecap="round"/>
<path d="M117.50,354.00 C125.42,354.42 151.25,355.80 165.00,356.50 C178.75,357.20 177.50,357.45 200.00,358.20 C222.50,358.95 279.00,360.87 300.00,361.00 C321.00,361.13 316.42,359.92 326.00,359.00 C335.58,358.08 348.08,355.67 357.50,355.50 C366.92,355.33 372.08,357.17 382.50,358.00 C392.92,358.83 405.42,360.17 420.00,360.50 C434.58,360.83 458.33,360.75 470.00,360.00 C481.67,359.25 485.00,358.00 490.00,356.00 C495.00,354.00 496.67,351.00 500.00,348.00 C503.33,345.00 505.67,343.00 510.00,338.00 C514.33,333.00 521.00,324.33 526.00,318.00 C531.00,311.67 536.00,305.33 540.00,300.00 C544.00,294.67 545.00,293.33 550.00,286.00 C555.00,278.67 564.00,264.67 570.00,256.00 C576.00,247.33 581.00,239.97 586.00,234.00 C591.00,228.03 593.70,225.27 600.00,220.20 C606.30,215.13 615.87,207.97 623.80,203.60 C631.73,199.23 639.67,196.60 647.60,194.00 C655.53,191.40 662.27,189.78 671.40,188.00 C680.53,186.22 692.08,184.55 702.40,183.30 C712.72,182.05 720.60,180.88 733.30,180.50 C746.00,180.12 771.05,180.92 778.60,181.00" fill="none" stroke="#c4121c" stroke-width="1.4" stroke-linejoin="round" stroke-linecap="round" stroke-opacity="0.8"/>
<path d="M120.00,366.60 C133.33,366.67 170.00,366.83 200.00,367.00 C230.00,367.17 266.67,367.53 300.00,367.60 C333.33,367.67 370.00,367.50 400.00,367.40 C430.00,367.30 463.33,367.15 480.00,367.00 C496.67,366.85 494.83,367.00 500.00,366.50 C505.17,366.00 506.33,365.75 511.00,364.00 C515.67,362.25 522.50,359.33 528.00,356.00 C533.50,352.67 539.17,348.25 544.00,344.00 C548.83,339.75 552.92,335.33 557.00,330.50 C561.08,325.67 564.67,320.17 568.50,315.00 C572.33,309.83 576.42,304.67 580.00,299.50 C583.58,294.33 586.67,289.25 590.00,284.00 C593.33,278.75 596.67,273.33 600.00,268.00 C603.33,262.67 606.33,257.67 610.00,252.00 C613.67,246.33 618.12,239.30 622.00,234.00 C625.88,228.70 629.03,224.70 633.30,220.20 C637.57,215.70 642.65,211.17 647.60,207.00 C652.55,202.83 657.83,198.37 663.00,195.20 C668.17,192.03 672.63,190.20 678.60,188.00 C684.57,185.80 692.45,183.67 698.80,182.00 C705.15,180.33 710.33,179.17 716.70,178.00 C723.07,176.83 730.45,175.78 737.00,175.00 C743.55,174.22 749.47,173.50 756.00,173.30 C762.53,173.10 772.83,173.72 776.20,173.80" fill="none" stroke="#ffffff" stroke-opacity="0.25" stroke-width="6.6" stroke-linejoin="round" stroke-linecap="round" clip-path="url(#hc)" stroke-dasharray="7 12.2" stroke-dashoffset="-4.2"/>
<path d="M120.00,366.60 C133.33,366.67 170.00,366.83 200.00,367.00 C230.00,367.17 266.67,367.53 300.00,367.60 C333.33,367.67 370.00,367.50 400.00,367.40 C430.00,367.30 463.33,367.15 480.00,367.00 C496.67,366.85 494.83,367.00 500.00,366.50 C505.17,366.00 506.33,365.75 511.00,364.00 C515.67,362.25 522.50,359.33 528.00,356.00 C533.50,352.67 539.17,348.25 544.00,344.00 C548.83,339.75 552.92,335.33 557.00,330.50 C561.08,325.67 564.67,320.17 568.50,315.00 C572.33,309.83 576.42,304.67 580.00,299.50 C583.58,294.33 586.67,289.25 590.00,284.00 C593.33,278.75 596.67,273.33 600.00,268.00 C603.33,262.67 606.33,257.67 610.00,252.00 C613.67,246.33 618.12,239.30 622.00,234.00 C625.88,228.70 629.03,224.70 633.30,220.20 C637.57,215.70 642.65,211.17 647.60,207.00 C652.55,202.83 657.83,198.37 663.00,195.20 C668.17,192.03 672.63,190.20 678.60,188.00 C684.57,185.80 692.45,183.67 698.80,182.00 C705.15,180.33 710.33,179.17 716.70,178.00 C723.07,176.83 730.45,175.78 737.00,175.00 C743.55,174.22 749.47,173.50 756.00,173.30 C762.53,173.10 772.83,173.72 776.20,173.80" fill="none" stroke="#b81826" stroke-width="4.0" stroke-linejoin="round" stroke-linecap="round" stroke-dasharray="7 12.2" stroke-dashoffset="-4.2"/>
<path d="M120.00,366.60 C133.33,366.67 170.00,366.83 200.00,367.00 C230.00,367.17 266.67,367.53 300.00,367.60 C333.33,367.67 370.00,367.50 400.00,367.40 C430.00,367.30 463.33,367.15 480.00,367.00 C496.67,366.85 494.83,367.00 500.00,366.50 C505.17,366.00 506.33,365.75 511.00,364.00 C515.67,362.25 522.50,359.33 528.00,356.00 C533.50,352.67 539.17,348.25 544.00,344.00 C548.83,339.75 552.92,335.33 557.00,330.50 C561.08,325.67 564.67,320.17 568.50,315.00 C572.33,309.83 576.42,304.67 580.00,299.50 C583.58,294.33 586.67,289.25 590.00,284.00 C593.33,278.75 596.67,273.33 600.00,268.00 C603.33,262.67 606.33,257.67 610.00,252.00 C613.67,246.33 618.12,239.30 622.00,234.00 C625.88,228.70 629.03,224.70 633.30,220.20 C637.57,215.70 642.65,211.17 647.60,207.00 C652.55,202.83 657.83,198.37 663.00,195.20 C668.17,192.03 672.63,190.20 678.60,188.00 C684.57,185.80 692.45,183.67 698.80,182.00 C705.15,180.33 710.33,179.17 716.70,178.00 C723.07,176.83 730.45,175.78 737.00,175.00 C743.55,174.22 749.47,173.50 756.00,173.30 C762.53,173.10 772.83,173.72 776.20,173.80" fill="none" stroke="#a81020" stroke-width="1.4" stroke-linejoin="round" stroke-linecap="round" stroke-dasharray="7 12.2" stroke-dashoffset="-4.2"/>
</g>
<text x="54" y="372.50" text-anchor="end" font-family="Liberation Sans" font-size="10.6" fill="#111">0</text>
<text x="54" y="337.95" text-anchor="end" font-family="Liberation Sans" font-size="10.6" fill="#111">10</text>
<text x="54" y="303.40" text-anchor="end" font-family="Liberation Sans" font-size="10.6" fill="#111">20</text>
<text x="54" y="268.85" text-anchor="end" font-family="Liberation Sans" font-size="10.6" fill="#111">30</text>
<text x="54" y="234.30" text-anchor="end" font-family="Liberation Sans" font-size="10.6" fill="#111">40</text>
<text x="54" y="199.75" text-anchor="end" font-family="Liberation Sans" font-size="10.6" fill="#111">50</text>
<text x="54" y="165.20" text-anchor="end" font-family="Liberation Sans" font-size="10.6" fill="#111">60</text>
<text x="54" y="130.65" text-anchor="end" font-family="Liberation Sans" font-size="10.6" fill="#111">70</text>
<text x="54" y="96.10" text-anchor="end" font-family="Liberation Sans" font-size="10.6" fill="#111">80</text>
<text x="54" y="61.55" text-anchor="end" font-family="Liberation Sans" font-size="10.6" fill="#111">90</text>
<text x="54" y="27.00" text-anchor="end" font-family="Liberation Sans" font-size="10.6" fill="#111">100</text>
<text x="68.10" y="388" text-anchor="middle" font-family="Liberation Sans" font-size="10.6" fill="#111">350</text>
<text x="159.28" y="388" text-anchor="middle" font-family="Liberation Sans" font-size="10.6" fill="#111">400</text>
<text x="250.45" y="388" text-anchor="middle" font-family="Liberation Sans" font-size="10.6" fill="#111">450</text>
<text x="341.62" y="388" text-anchor="middle" font-family="Liberation Sans" font-size="10.6" fill="#111">500</text>
<text x="432.80" y="388" text-anchor="middle" font-family="Liberation Sans" font-size="10.6" fill="#111">550</text>
<text x="523.97" y="388" text-anchor="middle" font-family="Liberation Sans" font-size="10.6" fill="#111">600</text>
<text x="615.15" y="388" text-anchor="middle" font-family="Liberation Sans" font-size="10.6" fill="#111">650</text>
<text x="706.32" y="388" text-anchor="middle" font-family="Liberation Sans" font-size="10.6" fill="#111">700</text>
<text x="154.4" y="410.8" font-family="Liberation Serif" font-size="13.4" fill="#1e1e1e" textLength="99.6" lengthAdjust="spacingAndGlyphs">Wavelength (nm)</text>
<text transform="translate(24.2,241.8) rotate(-90)" font-family="Liberation Serif" font-size="13.2" fill="#1e1e1e" textLength="90" lengthAdjust="spacingAndGlyphs">spectral power</text>
<rect x="341.5" y="391.5" width="457" height="69" fill="url(#lg)"/>
<circle cx="360.4" cy="396.50" r="2" fill="#ffffff"/>
<circle cx="368.2" cy="396.50" r="2" fill="#ffffff"/>
<circle cx="376.0" cy="396.50" r="2" fill="#ffffff"/>
<circle cx="383.8" cy="396.50" r="2" fill="#ffffff"/>
<text x="394.3" y="399.50" font-family="Liberation Serif" font-size="8.5" fill="#343846" textLength="92" lengthAdjust="spacing">white SCA Graphosilk</text>
<path d="M359.9,406.37 L384.4,406.37" stroke="#f2c81c" stroke-width="3.9" stroke-linecap="round"/>
<text x="394.3" y="409.37" font-family="Liberation Serif" font-size="8.5" fill="#343846" textLength="159" lengthAdjust="spacing">yellow-orange SCA Graphosilk (70gsm)</text>
<path d="M359.9,416.24 L384.4,416.24" stroke="#f0a028" stroke-width="3.9" stroke-linecap="round"/>
<text x="394.3" y="419.24" font-family="Liberation Serif" font-size="8.5" fill="#343846" textLength="130" lengthAdjust="spacing">orange SCA Graphosilk (70gsm)</text>
<path d="M359.9,426.11 L384.4,426.11" stroke="#a80c10" stroke-width="3.9" stroke-linecap="round"/>
<text x="394.3" y="429.11" font-family="Liberation Serif" font-size="8.5" fill="#343846" textLength="81" lengthAdjust="spacing">red SCA Graphosilk</text>
<circle cx="360.3" cy="435.98" r="0.8" fill="#a8c860"/>
<circle cx="363.6" cy="435.98" r="0.8" fill="#a8c860"/>
<circle cx="366.9" cy="435.98" r="0.8" fill="#a8c860"/>
<circle cx="370.2" cy="435.98" r="0.8" fill="#a8c860"/>
<circle cx="373.5" cy="435.98" r="0.8" fill="#a8c860"/>
<circle cx="376.8" cy="435.98" r="0.8" fill="#a8c860"/>
<circle cx="380.1" cy="435.98" r="0.8" fill="#a8c860"/>
<circle cx="383.4" cy="435.98" r="0.8" fill="#a8c860"/>
<text x="394.3" y="438.98" font-family="Liberation Serif" font-size="8.5" fill="#343846" textLength="126" lengthAdjust="spacing">green SCA Graphosilk (70gsm)</text>
<path d="M358.3,445.85 L386.0,445.85" stroke="#d6deee" stroke-width="2" stroke-linecap="butt"/>
<text x="394.3" y="448.85" font-family="Liberation Serif" font-size="8.5" fill="#343846" textLength="49" lengthAdjust="spacing">Yellow Rose</text>
<path d="M360.3,455.72 L368.8,455.72" stroke="#a81828" stroke-width="4.4" stroke-linecap="round"/>
<path d="M360.3,455.72 L368.8,455.72" stroke="#d04858" stroke-width="1.5" stroke-linecap="round"/>
<path d="M379.8,455.72 L384.5,455.72" stroke="#a81828" stroke-width="4.4" stroke-linecap="round"/>
<path d="M379.8,455.72 L384.5,455.72" stroke="#d04858" stroke-width="1.5" stroke-linecap="round"/>
<text x="394.3" y="458.72" font-family="Liberation Serif" font-size="8.5" fill="#343846" textLength="61" lengthAdjust="spacing">Red Rose petal</text>
<path d="M588.6,396.50 L613.0,396.50" stroke="#f6f020" stroke-width="3.9" stroke-linecap="round"/>
<text x="625.0" y="399.50" font-family="Liberation Serif" font-size="8.5" fill="#343846" textLength="94" lengthAdjust="spacing">yellow SCA Graphosilk</text>
<path d="M588.6,406.37 L613.0,406.37" stroke="#e87a2a" stroke-width="3.9" stroke-linecap="round"/>
<text x="625.0" y="409.37" font-family="Liberation Serif" font-size="8.5" fill="#343846" textLength="152" lengthAdjust="spacing">light orange SCA Graphosilk (70gsm)</text>
<path d="M588.6,416.24 L613.0,416.24" stroke="#e51a14" stroke-width="3.9" stroke-linecap="round"/>
<text x="625.0" y="419.24" font-family="Liberation Serif" font-size="8.5" fill="#343846" textLength="146" lengthAdjust="spacing">red-orange SCA Graphosilk (70gsm)</text>
<circle cx="589.0" cy="426.11" r="1.5" fill="#1a2c58"/>
<circle cx="594.4" cy="426.11" r="1.5" fill="#1a2c58"/>
<circle cx="599.7" cy="426.11" r="1.5" fill="#1a2c58"/>
<circle cx="605.0" cy="426.11" r="1.5" fill="#1a2c58"/>
<circle cx="610.4" cy="426.11" r="1.5" fill="#1a2c58"/>
<text x="625.0" y="429.11" font-family="Liberation Serif" font-size="8.5" fill="#343846" textLength="86" lengthAdjust="spacing">blue SCA Graphosilk</text>
<path d="M588.5,435.98 L597.2,435.98" stroke="#ffffff" stroke-width="3" stroke-linecap="round"/>
<circle cx="608.5" cy="435.98" r="1.5" fill="#ffffff"/>
<text x="625.0" y="438.98" font-family="Liberation Serif" font-size="8.5" fill="#343846" textLength="83" lengthAdjust="spacing">White Orchid flower</text>
<path d="M588.5,445.85 L613.1,445.85" stroke="#c02838" stroke-width="4" stroke-linecap="round"/>
<path d="M588.5,445.85 L613.1,445.85" stroke="#e44858" stroke-width="1.4" stroke-linecap="round"/>
<text x="625.0" y="448.85" font-family="Liberation Serif" font-size="8.5" fill="#343846" textLength="80" lengthAdjust="spacing">red cyclamen flower</text>
<line x1="0.5" y1="0" x2="0.5" y2="462" stroke="#6a6a6a" stroke-width="1.2"/>
<line x1="798" y1="0" x2="798" y2="462" stroke="#ffffff" stroke-width="1"/>
<line x1="799.5" y1="0" x2="799.5" y2="462" stroke="#5a6068" stroke-width="1.2"/>
<line x1="0" y1="460" x2="800" y2="460" stroke="#ffffff" stroke-width="1"/>
<line x1="0" y1="461.5" x2="800" y2="461.5" stroke="#50565e" stroke-width="1.2"/>
</svg>
</body></html>
